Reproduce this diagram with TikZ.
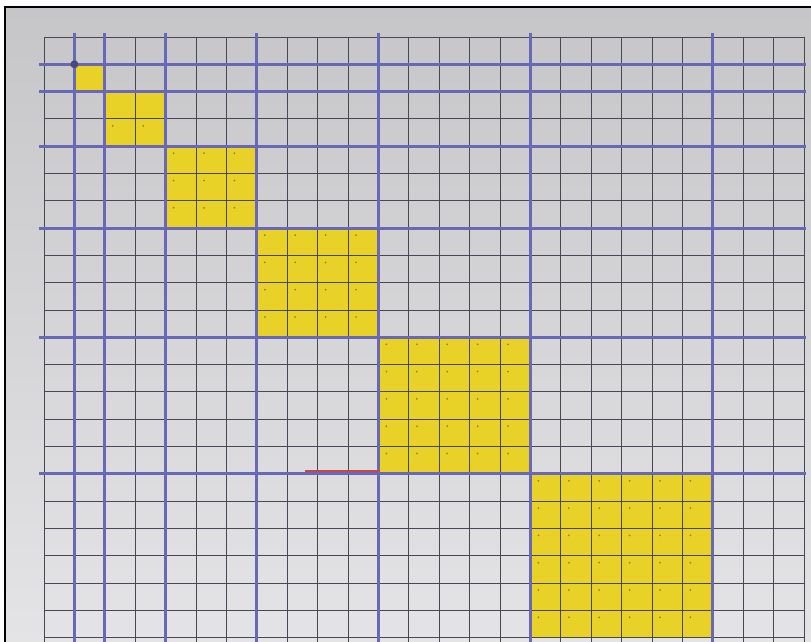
\documentclass[tikz,border=0pt]{standalone}
\definecolor{paperTop}{RGB}{198,198,200}
\definecolor{paperBot}{RGB}{228,228,231}
\definecolor{yel}{RGB}{233,210,40}
\definecolor{gridc}{RGB}{72,72,84}
\definecolor{bluec}{RGB}{104,104,182}
\definecolor{dotc}{RGB}{150,130,40}
\definecolor{redc}{RGB}{200,70,70}
\tikzset{
  gridline/.style={draw=gridc,line width=0.65pt},
  blueline/.style={draw=bluec,line width=2.1pt},
  framestyle/.style={draw=black,line width=1.6pt},
  yelsq/.style={fill=yel},
  markdot/.style={fill=dotc}
}
\begin{document}
\begin{tikzpicture}[x=0.75pt,y=-0.75pt]
\useasboundingbox (0,0) rectangle (811,642);
\fill[white] (0,0) rectangle (811,642);
\shade[top color=paperTop,bottom color=paperBot] (5,7) rectangle (811,642);
% yellow squares
\foreach \k/\b in {1/1,2/2,3/4,4/7,5/11,6/16}{
  \fill[yelsq] ({44+30.4*\b},{37+27.3*\b}) rectangle ({44+30.4*(\b+\k)},{37+27.3*(\b+\k)});
}
% small marks in the cells
\foreach \k/\b in {3/4,4/7,5/11,6/16}{
  \foreach \u in {1,...,\k}{
    \foreach \v in {1,...,\k}{
      \fill[markdot] ({44+30.4*(\b+\u-1)+8},{37+27.3*(\b+\v-1)+7}) circle (1);
    }
  }
}
\fill[markdot] ({44+30.4*2+8},{37+27.3*3+7}) circle (1);
\fill[markdot] ({44+30.4*3+8},{37+27.3*3+7}) circle (1);
% thin grid
\foreach \i in {0,...,25}{
  \draw[gridline] ({44+30.4*\i},37) -- ({44+30.4*\i},642);
}
\foreach \j in {0,...,22}{
  \draw[gridline] (44,{37+27.3*\j}) -- (804,{37+27.3*\j});
}
% blue lines
\foreach \i in {1,2,4,7,11,16,22}{
  \draw[blueline] ({44+30.4*\i},33) -- ({44+30.4*\i},642);
}
\foreach \j in {1,2,4,7,11,16}{
  \draw[blueline] (39,{37+27.3*\j}) -- (806,{37+27.3*\j});
}
\fill[bluec!70!black] ({44+30.4},{37+27.3}) circle (4);
% red pencil line
\draw[redc,line width=1pt] (305,{37+27.3*16-2.8}) -- (380,{37+27.3*16-2.8});
% photo frame
\draw[framestyle] (5,642) -- (5,7) -- (811,7);
\end{tikzpicture}
\end{document}
